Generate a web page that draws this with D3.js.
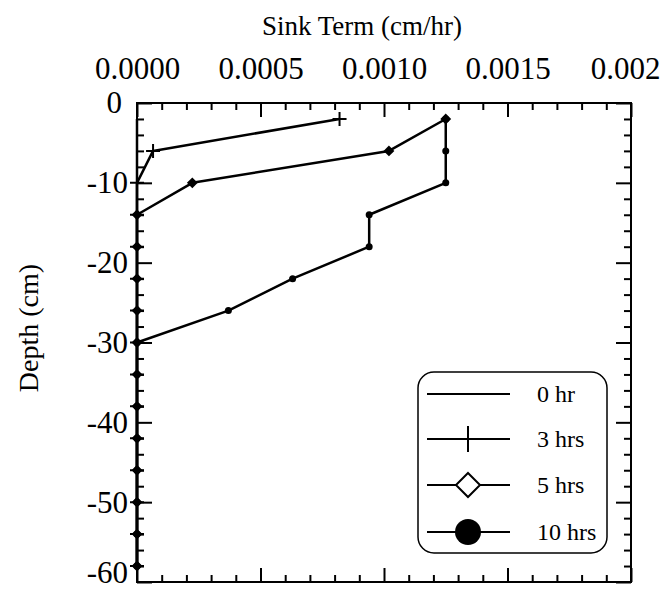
<!DOCTYPE html>
<html>
<head>
<meta charset="utf-8">
<script src="https://cdn.jsdelivr.net/npm/d3@7"></script>
<style>
  body { margin: 0; background: #fff; }
</style>
</head>
<body>
<svg id="chart" width="660" height="589"></svg>
<script>
// depths (cm) where the sink term is reported
const depths = [-2, -6, -10, -14, -18, -22, -26, -30, -34, -38, -42, -46, -50, -54, -58];

// sink term (cm/hr) per series, one value per depth
const sink0 = [0, 0, 0, 0, 0, 0, 0, 0, 0, 0, 0, 0, 0, 0, 0];
const sink3 = [0.00082, 0.000065, 0, 0, 0, 0, 0, 0, 0, 0, 0, 0, 0, 0, 0];
const sink5 = [0.00125, 0.00102, 0.000224, 0, 0, 0, 0, 0, 0, 0, 0, 0, 0, 0, 0];
const sink10 = [0.00125, 0.00125, 0.00125, 0.00094, 0.00094, 0.00063, 0.00037, 0, 0, 0, 0, 0, 0, 0, 0];

const seriesNames = ['0 hr', '3 hrs', '5 hrs', '10 hrs'];
const seriesMarkers = ['none', 'plus', 'diamond', 'circle'];

const xTicks = [0, 0.0005, 0.001, 0.0015, 0.002];
const xTickLabels = ['0.0000', '0.0005', '0.0010', '0.0015', '0.002'];
const yTicks = [0, -10, -20, -30, -40, -50, -60];

const FONT = '"Liberation Serif", "Times New Roman", serif';

const svg = d3.select('#chart').style('font-family', FONT);
const margin = { left: 137, right: 29, top: 103, bottom: 7 };
const W = 660, H = 589;

const x = d3.scaleLinear().domain([0, 0.002]).range([margin.left, W - margin.right]);
const y = d3.scaleLinear().domain([0, -60]).range([margin.top, H - margin.bottom]);

// minor tick values
const xMinor = d3.range(0, 0.00201, 0.0001).filter(v => Math.abs(v / 0.0005 - Math.round(v / 0.0005)) > 1e-6);
const yMinor = d3.range(0, -61, -2).filter(v => v % 10 !== 0);

// top axis (labels)
const topAxis = svg.append('g')
    .attr('transform', `translate(0,${margin.top})`)
    .call(d3.axisTop(x).tickValues(xTicks).tickSize(-14).tickSizeOuter(0).tickPadding(24)
        .tickFormat((d, i) => xTickLabels[i]));
topAxis.append('g')
    .call(d3.axisTop(x).tickValues(xMinor).tickSize(-7).tickSizeOuter(0).tickFormat(''));

// bottom axis (ticks only)
const bottomAxis = svg.append('g')
    .attr('transform', `translate(0,${H - margin.bottom})`)
    .call(d3.axisBottom(x).tickValues(xTicks).tickSize(-14).tickSizeOuter(0).tickFormat(''));
bottomAxis.append('g')
    .call(d3.axisBottom(x).tickValues(xMinor).tickSize(-7).tickSizeOuter(0).tickFormat(''));

// left axis (labels)
const leftAxis = svg.append('g')
    .attr('transform', `translate(${margin.left},0)`)
    .call(d3.axisLeft(y).tickValues(yTicks).tickSize(-15).tickSizeOuter(0).tickPadding(9)
        .tickFormat(d => String(d)));
leftAxis.append('g')
    .call(d3.axisLeft(y).tickValues(yMinor).tickSize(-7).tickSizeOuter(0).tickFormat(''));

// right axis (ticks only)
const rightAxis = svg.append('g')
    .attr('transform', `translate(${W - margin.right},0)`)
    .call(d3.axisRight(y).tickValues(yTicks).tickSize(-15).tickSizeOuter(0).tickFormat(''));
rightAxis.append('g')
    .call(d3.axisRight(y).tickValues(yMinor).tickSize(-7).tickSizeOuter(0).tickFormat(''));

svg.selectAll('.domain').remove();
svg.selectAll('g').attr('font-family', FONT);
svg.selectAll('.tick line').attr('stroke', '#000').attr('stroke-width', 2);
svg.selectAll('.tick text')
    .attr('fill', '#000')
    .style('font-family', FONT)
    .style('font-size', '31px');
// the last top label sits against the right edge, the bottom left label is lifted a little
topAxis.selectAll('.tick text').filter(d => d === 0.002).attr('dx', -6);
leftAxis.selectAll('.tick text').filter(d => d === -60).attr('dy', '0em');
leftAxis.selectAll('.tick text').filter(d => d === 0).attr('dx', -6);

// frame
svg.append('rect')
    .attr('x', x(0)).attr('y', y(0))
    .attr('width', x(0.002) - x(0)).attr('height', y(-60) - y(0))
    .attr('fill', 'none').attr('stroke', '#000').attr('stroke-width', 2);

// axis titles
svg.append('text')
    .attr('x', 362).attr('y', 35)
    .attr('text-anchor', 'middle')
    .style('font-size', '27px')
    .text('Sink Term (cm/hr)');

svg.append('text')
    .attr('transform', 'translate(38,328) rotate(-90)')
    .attr('text-anchor', 'middle')
    .style('font-size', '28px')
    .text('Depth (cm)');

// series
const seriesValues = [sink0, sink3, sink5, sink10];
const line = d3.line().x(d => x(d.v)).y(d => y(d.depth));

function drawMarker(g, type, size) {
    if (type === 'plus') {
        g.append('path')
            .attr('d', `M${-size},0H${size}M0,${-size}V${size}`)
            .attr('stroke', '#000').attr('stroke-width', 2).attr('fill', 'none');
    } else if (type === 'diamond') {
        g.append('path')
            .attr('d', `M0,${-size}L${size},0L0,${size}L${-size},0Z`)
            .attr('stroke', '#000').attr('stroke-width', 2).attr('fill', size > 6 ? '#fff' : '#000');
    } else if (type === 'circle') {
        g.append('circle').attr('r', size).attr('fill', '#000');
    }
}

seriesValues.forEach((vals, si) => {
    const pts = depths.map((depth, i) => ({ depth, v: vals[i] }));
    svg.append('path')
        .datum(pts)
        .attr('d', line)
        .attr('fill', 'none')
        .attr('stroke', '#000')
        .attr('stroke-width', 2.5)
        .attr('stroke-linejoin', 'round');
    const sizes = { plus: 7, diamond: 4, circle: 3.5 };
    pts.forEach(p => {
        if (seriesMarkers[si] === 'none') return;
        const g = svg.append('g').attr('transform', `translate(${x(p.v)},${y(p.depth)})`);
        drawMarker(g, seriesMarkers[si], sizes[seriesMarkers[si]]);
    });
});

// legend
const legend = svg.append('g');
legend.append('rect')
    .attr('x', 418).attr('y', 372)
    .attr('width', 189).attr('height', 181)
    .attr('rx', 16).attr('ry', 16)
    .attr('fill', '#fff').attr('stroke', '#000').attr('stroke-width', 1.5);

const legendRowY = [394, 439, 485, 532];
const legendMarkerSize = { plus: 13, diamond: 12, circle: 13 };
seriesNames.forEach((name, i) => {
    const row = legend.append('g').attr('transform', `translate(0,${legendRowY[i]})`);
    row.append('line')
        .attr('x1', 427).attr('x2', 510)
        .attr('stroke', '#000').attr('stroke-width', 2);
    if (seriesMarkers[i] !== 'none') {
        const g = row.append('g').attr('transform', 'translate(468,0)');
        drawMarker(g, seriesMarkers[i], legendMarkerSize[seriesMarkers[i]]);
    }
    row.append('text')
        .attr('x', 537).attr('y', 8)
        .style('font-size', '24px')
        .text(name);
});
</script>
</body>
</html>
